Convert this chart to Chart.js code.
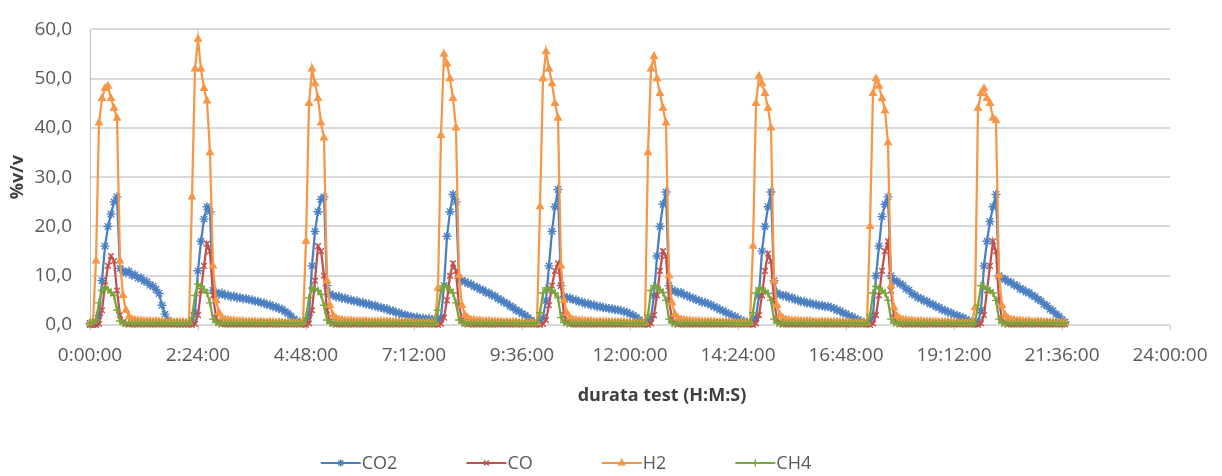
<!DOCTYPE html>
<html>
<head>
<meta charset="utf-8">
<title>Composizione gas - durata test</title>
<script src="https://cdn.jsdelivr.net/npm/chart.js@4.4.1/dist/chart.umd.min.js"></script>
<style>
  html, body { margin: 0; padding: 0; background: #fff; }
</style>
</head>
<body>
<canvas id="gasChart" width="1222" height="476"></canvas>
<script>
// letture ogni 4 minuti, a partire da 0:00:00
const SAMPLE_MIN = 4;

// %v/v per ogni lettura, un ciclo per riga
const co2 = [
  0.3, 0.3,
  0.4, 2, 9, 16, 20, 22.5, 25, 26, 11.5, 11, 10.6, 10.9, 10.1, 10.2, 9.5, 9.6, 8.9, 8.8, 8.1, 7.9, 7.2, 6.4, 4.0, 2.2, 1.0, 0.6, 0.5, 0.4, 0.4, 0.4, 0.4, 0.4,
  0.5, 2.5, 11, 17, 21.5, 24, 23, 7, 6.6, 6.2, 6.5, 6.0, 6.1, 5.7, 5.9, 5.5, 5.6, 5.3, 5.4, 5.1, 5.1, 4.8, 4.8, 4.5, 4.5, 4.1, 4.1, 3.7, 3.7, 3.3, 3.2, 2.7, 2.4, 1.8, 1.2, 0.8, 0.6, 0.5,
  0.6, 2, 12, 19, 23, 25.5, 26, 8, 6.3, 6.0, 5.7, 5.8, 5.4, 5.5, 5.1, 5.1, 4.8, 4.9, 4.5, 4.6, 4.2, 4.3, 3.9, 4.0, 3.6, 3.6, 3.3, 3.3, 2.9, 2.9, 2.5, 2.5, 2.1, 2.1, 1.8, 1.8, 1.5, 1.6, 1.3, 1.4, 1.2, 1.3, 1.1, 1.2,
  1.0, 1.5, 8, 18, 23, 26.5, 25, 9.5, 9.0, 8.8, 8.4, 8.3, 7.8, 7.7, 7.2, 7.1, 6.6, 6.5, 6.0, 5.9, 5.3, 5.1, 4.6, 4.4, 3.8, 3.6, 3.0, 2.8, 2.3, 2.0, 1.5, 1.0, 0.6, 0.5,
  0.5, 1.5, 5, 12, 19, 24, 27.5, 8, 5.8, 5.5, 5.5, 5.1, 5.1, 4.7, 4.7, 4.3, 4.4, 4.0, 4.1, 3.7, 3.8, 3.5, 3.5, 3.3, 3.3, 3.1, 3.1, 2.9, 2.7, 2.6, 2.2, 2.0, 1.6, 1.1, 0.7, 0.5,
  0.5, 1.5, 6, 14, 20, 24.5, 27, 8, 7, 6.9, 6.5, 6.6, 6.1, 6.0, 5.6, 5.5, 5.1, 5.0, 4.6, 4.6, 4.3, 4.1, 3.7, 3.5, 3.1, 2.9, 2.5, 2.3, 1.9, 1.7, 1.3, 1.0, 0.8, 0.6, 0.5,
  0.5, 1.5, 6, 15, 20, 24, 27, 9, 6.5, 6.2, 5.9, 6.0, 5.5, 5.6, 5.1, 5.1, 4.7, 4.8, 4.4, 4.5, 4.2, 4.2, 3.9, 4.0, 3.7, 3.8, 3.5, 3.4, 3.0, 2.9, 2.4, 2.3, 1.8, 1.7, 1.3, 1.1, 0.8, 0.6, 0.5,
  0.5, 2, 10, 16, 22, 24.5, 26, 10, 9, 8.9, 8.3, 8.1, 7.3, 7.1, 6.3, 6.1, 5.5, 5.4, 4.9, 4.8, 4.3, 4.2, 3.7, 3.6, 3.1, 3.0, 2.6, 2.5, 2.1, 2.0, 1.6, 1.5, 1.1, 0.9, 0.7, 0.5,
  0.5, 3, 12, 17, 21, 24, 26.5, 10, 9.5, 9.3, 8.8, 8.7, 8.1, 8.0, 7.3, 7.2, 6.7, 6.6, 6.0, 5.8, 5.2, 4.9, 4.2, 3.9, 3.2, 2.9, 2.2, 1.8, 1.1, 0.6
];

const co = [
  0, 0,
  0, 0.2, 3, 8, 12, 14, 13, 7, 2, 0.6, 0.2,
  0.1, 0.1, 0.1, 0.1, 0.1, 0.1, 0.1, 0.1, 0.1, 0.1, 0.1, 0.1, 0.1, 0.1, 0.1, 0.1, 0.1, 0.1, 0.1, 0.1, 0.1,
  0, 0.2, 2, 7, 12, 16.5, 15, 6, 1.5, 0.5, 0.2,
  0.1, 0.1, 0.1, 0.1, 0.1, 0.1, 0.1, 0.1, 0.1, 0.1, 0.1, 0.1, 0.1, 0.1, 0.1, 0.1, 0.1, 0.1, 0.1, 0.1, 0.1, 0.1, 0.1, 0.1, 0.1, 0.1, 0.1,
  0, 0.3, 3, 9, 16, 15, 10, 3, 0.8, 0.3, 0.1,
  0.1, 0.1, 0.1, 0.1, 0.1, 0.1, 0.1, 0.1, 0.1, 0.1, 0.1, 0.1, 0.1, 0.1, 0.1, 0.1, 0.1, 0.1, 0.1, 0.1, 0.1, 0.1, 0.1, 0.1, 0.1, 0.1, 0.1, 0.1, 0.1, 0.1, 0.1, 0.1, 0.1,
  0, 0.2, 1.5, 5, 10, 12.5, 11, 4, 1, 0.3,
  0.1, 0.1, 0.1, 0.1, 0.1, 0.1, 0.1, 0.1, 0.1, 0.1, 0.1, 0.1, 0.1, 0.1, 0.1, 0.1, 0.1, 0.1, 0.1, 0.1, 0.1, 0.1, 0.1, 0.1,
  0, 0.2, 1, 4, 8, 11, 12.5, 8, 2, 0.5, 0.2,
  0.1, 0.1, 0.1, 0.1, 0.1, 0.1, 0.1, 0.1, 0.1, 0.1, 0.1, 0.1, 0.1, 0.1, 0.1, 0.1, 0.1, 0.1, 0.1, 0.1, 0.1, 0.1, 0.1, 0.1, 0.1,
  0, 0.3, 2, 6, 11, 15, 14, 5, 1.2, 0.4,
  0.1, 0.1, 0.1, 0.1, 0.1, 0.1, 0.1, 0.1, 0.1, 0.1, 0.1, 0.1, 0.1, 0.1, 0.1, 0.1, 0.1, 0.1, 0.1, 0.1, 0.1, 0.1, 0.1, 0.1, 0.1,
  0, 0.3, 2, 6, 11, 14.5, 13, 5, 1.2, 0.4,
  0.1, 0.1, 0.1, 0.1, 0.1, 0.1, 0.1, 0.1, 0.1, 0.1, 0.1, 0.1, 0.1, 0.1, 0.1, 0.1, 0.1, 0.1, 0.1, 0.1, 0.1, 0.1, 0.1, 0.1, 0.1, 0.1, 0.1, 0.1, 0.1,
  0, 0.3, 2, 6, 11, 15, 17, 7, 1.5, 0.5,
  0.1, 0.1, 0.1, 0.1, 0.1, 0.1, 0.1, 0.1, 0.1, 0.1, 0.1, 0.1, 0.1, 0.1, 0.1, 0.1, 0.1, 0.1, 0.1, 0.1, 0.1, 0.1, 0.1, 0.1, 0.1, 0.1,
  0, 0.3, 2, 7, 12, 17, 15, 5, 1.2, 0.4,
  0.1, 0.1, 0.1, 0.1, 0.1, 0.1, 0.1, 0.1, 0.1, 0.1, 0.1, 0.1, 0.1, 0.1, 0.1, 0.1, 0.1, 0.1, 0.1, 0.1
];

const h2 = [
  0.5, 0.8,
  13, 41, 46, 48, 48.5, 46, 44, 42, 13, 6, 3, 1.7, 1.2,
  1.0, 0.9, 0.9, 0.8, 0.8, 0.8, 0.7, 0.8, 0.7, 0.7, 0.7, 0.6, 0.7, 0.6, 0.6, 0.6, 0.6, 0.5, 0.6,
  26, 52, 58, 52, 48, 45.5, 35, 12, 5, 2.5, 1.5, 1.1, 1.0,
  0.9, 0.9, 0.8, 0.8, 0.8, 0.7, 0.7, 0.7, 0.7, 0.6, 0.7, 0.6, 0.6, 0.6, 0.6, 0.5, 0.6, 0.5, 0.5, 0.5, 0.5, 0.5, 0.5, 0.5, 0.6,
  17, 45, 52, 49, 46, 41, 38, 9, 4, 2, 1.4, 1.1, 1.0,
  0.9, 0.9, 0.9, 0.8, 0.8, 0.8, 0.8, 0.8, 0.7, 0.7, 0.7, 0.7, 0.7, 0.7, 0.7, 0.7, 0.6, 0.6, 0.6, 0.6, 0.6, 0.6, 0.6, 0.6, 0.5, 0.5, 0.5, 0.5, 0.5, 0.5, 0.5,
  7.5, 38.5, 55, 53, 50, 46, 40, 10, 4, 2, 1.4, 1.1, 1.0,
  0.9, 0.9, 0.8, 0.8, 0.8, 0.7, 0.7, 0.7, 0.7, 0.6, 0.6, 0.6, 0.6, 0.6, 0.5, 0.5, 0.5, 0.5, 0.5, 0.5, 0.5,
  24, 50, 55.5, 52, 49, 45, 42, 12, 5, 2.4, 1.5, 1.1, 1.0,
  0.9, 0.9, 0.8, 0.8, 0.8, 0.7, 0.7, 0.7, 0.7, 0.7, 0.6, 0.6, 0.6, 0.6, 0.6, 0.6, 0.5, 0.5, 0.5, 0.5, 0.5, 0.5, 0.5,
  35, 52, 54.5, 50, 47, 44, 41, 10, 4.5, 2.2, 1.4, 1.1, 1.0,
  0.9, 0.9, 0.8, 0.8, 0.8, 0.7, 0.7, 0.7, 0.7, 0.7, 0.6, 0.6, 0.6, 0.6, 0.6, 0.6, 0.5, 0.5, 0.5, 0.5, 0.5, 0.5,
  16, 45, 50.5, 49, 47, 44, 40, 9, 4, 2, 1.4, 1.1, 1.0,
  0.9, 0.9, 0.9, 0.8, 0.8, 0.8, 0.8, 0.7, 0.7, 0.7, 0.7, 0.7, 0.7, 0.6, 0.6, 0.6, 0.6, 0.6, 0.6, 0.6, 0.5, 0.5, 0.5, 0.5, 0.5, 0.5,
  20, 47, 50, 48.5, 46, 43.5, 37, 8, 3.5, 1.8, 1.3, 1.1, 1.0,
  0.9, 0.9, 0.8, 0.8, 0.8, 0.7, 0.7, 0.7, 0.7, 0.7, 0.6, 0.6, 0.6, 0.6, 0.6, 0.6, 0.5, 0.5, 0.5, 0.5, 0.5, 0.5, 3.5,
  44, 47, 48, 46, 45, 42, 41.5, 10, 4, 2, 1.4, 1.1, 1.0,
  0.9, 0.9, 0.8, 0.8, 0.8, 0.7, 0.7, 0.7, 0.7, 0.6, 0.6, 0.6, 0.6, 0.5, 0.5, 0.5, 0.5
];

const ch4 = [
  0.3, 0.5,
  1, 4.5, 7, 7.5, 7.2, 6.6, 6, 3, 0.8, 0.4,
  0.3, 0.4, 0.3, 0.3, 0.4, 0.3, 0.3, 0.4, 0.3, 0.3, 0.3, 0.4, 0.3, 0.3, 0.4, 0.3, 0.3, 0.4, 0.3, 0.3, 0.3, 0.3,
  1.5, 6, 8.3, 7.8, 7.2, 6.5, 4.5, 1.2, 0.5,
  0.3, 0.4, 0.3, 0.3, 0.4, 0.3, 0.3, 0.4, 0.3, 0.3, 0.3, 0.4, 0.3, 0.3, 0.4, 0.3, 0.3, 0.4, 0.3, 0.3, 0.3, 0.4, 0.3, 0.3, 0.4, 0.3, 0.3, 0.4, 0.3,
  1.5, 5.5, 7.5, 7.3, 7, 6.2, 4, 1, 0.4,
  0.3, 0.4, 0.3, 0.3, 0.4, 0.3, 0.3, 0.4, 0.3, 0.3, 0.3, 0.4, 0.3, 0.3, 0.4, 0.3, 0.3, 0.4, 0.3, 0.3, 0.3, 0.4, 0.3, 0.3, 0.4, 0.3, 0.3, 0.4, 0.3, 0.3, 0.3, 0.4, 0.3, 0.3, 0.4,
  3, 7, 8, 7.6, 7.2, 6.5, 4.5, 1, 0.4,
  0.3, 0.4, 0.3, 0.3, 0.4, 0.3, 0.3, 0.4, 0.3, 0.3, 0.3, 0.4, 0.3, 0.3, 0.4, 0.3, 0.3, 0.4, 0.3, 0.3, 0.3, 0.4, 0.3, 0.3, 0.4,
  2.5, 6.5, 7.5, 7.2, 7, 6.5, 5.5, 1.5, 0.5,
  0.3, 0.4, 0.3, 0.3, 0.4, 0.3, 0.3, 0.4, 0.3, 0.3, 0.3, 0.4, 0.3, 0.3, 0.4, 0.3, 0.3, 0.4, 0.3, 0.3, 0.3, 0.4, 0.3, 0.3, 0.4, 0.3, 0.3,
  2, 7, 8, 7.6, 7.2, 6.6, 5, 1.2, 0.4,
  0.3, 0.4, 0.3, 0.3, 0.4, 0.3, 0.3, 0.4, 0.3, 0.3, 0.3, 0.4, 0.3, 0.3, 0.4, 0.3, 0.3, 0.4, 0.3, 0.3, 0.3, 0.4, 0.3, 0.3, 0.4, 0.3,
  2.5, 6.5, 7.5, 7.2, 6.9, 6.4, 5, 1.2, 0.4,
  0.3, 0.4, 0.3, 0.3, 0.4, 0.3, 0.3, 0.4, 0.3, 0.3, 0.3, 0.4, 0.3, 0.3, 0.4, 0.3, 0.3, 0.4, 0.3, 0.3, 0.3, 0.4, 0.3, 0.3, 0.4, 0.3, 0.3, 0.4, 0.3, 0.3,
  2, 6.5, 7.8, 7.4, 7, 6.5, 5, 1.2, 0.4,
  0.3, 0.4, 0.3, 0.3, 0.4, 0.3, 0.3, 0.4, 0.3, 0.3, 0.3, 0.4, 0.3, 0.3, 0.4, 0.3, 0.3, 0.4, 0.3, 0.3, 0.3, 0.4, 0.3, 0.3, 0.4, 0.3, 0.3,
  4, 8, 7.8, 7.4, 7, 6.5, 5, 1.2, 0.4,
  0.3, 0.4, 0.3, 0.3, 0.4, 0.3, 0.3, 0.4, 0.3, 0.3, 0.3, 0.4, 0.3, 0.3, 0.4, 0.3, 0.3, 0.4, 0.3, 0.3, 0.3
];

const lengths = [co2, co, h2, ch4].map(a => a.length);
if (lengths.some(n => n !== lengths[0])) {
  throw new Error('serie di lunghezza diversa: ' + lengths.join('/'));
}

// asse x in minuti: 0:00:00 .. 24:00:00, una tacca ogni 2:24:00
const X_MAX = 1440;
const X_STEP = 144;

const blue = '#4a7fc1';
const red = '#c0504d';
const orange = '#f79646';
const green = '#78a53c';
const axisText = '#595959';
const titleText = '#404040';

Chart.defaults.font.family = '"Open Sans", sans-serif';

function hms(min) {
  const h = Math.floor(min / 60);
  const m = Math.round(min % 60);
  return h + ':' + String(m).padStart(2, '0') + ':00';
}

function series(label, values, color, pointStyle, radius, order) {
  return {
    label: label,
    data: values.map((v, i) => ({ x: i * SAMPLE_MIN, y: v })),
    borderColor: color,
    backgroundColor: color,
    borderWidth: 2.25,
    pointStyle: pointStyle,
    pointRadius: radius,
    pointBorderWidth: 1.4,
    pointBackgroundColor: color,
    pointBorderColor: color,
    tension: 0,
    clip: false,
    order: order
  };
}

// titolo asse x e legenda sotto al grafico
const bottomLabels = {
  id: 'bottomLabels',
  afterDraw(chart) {
    const { ctx, chartArea } = chart;
    const midX = (chartArea.left + chartArea.right) / 2;
    ctx.save();
    ctx.textBaseline = 'middle';

    ctx.font = 'bold 18px "Open Sans", sans-serif';
    ctx.fillStyle = titleText;
    ctx.textAlign = 'center';
    ctx.fillText('durata test (H:M:S)', midX + 32, chartArea.bottom + 71);

    ctx.font = '18px "Open Sans", sans-serif';
    ctx.textAlign = 'left';
    const lineLen = 40;
    const gap = 69;
    const items = chart.data.datasets.map(ds => ({ ds, w: lineLen + 1 + ctx.measureText(ds.label).width }));
    const total = items.reduce((s, it) => s + it.w, 0) + gap * (items.length - 1);
    let x = midX - 64 - total / 2;
    const y = chartArea.bottom + 138;
    items.forEach(({ ds, w }) => {
      ctx.strokeStyle = ds.borderColor;
      ctx.lineWidth = 2;
      ctx.beginPath();
      ctx.moveTo(x, y);
      ctx.lineTo(x + lineLen, y);
      ctx.stroke();
      ctx.fillStyle = ds.pointBackgroundColor;
      ctx.strokeStyle = ds.pointBorderColor;
      ctx.lineWidth = ds.pointBorderWidth;
      Chart.helpers.drawPoint(ctx, {
        pointStyle: ds.pointStyle,
        radius: 3.5,
        borderWidth: ds.pointBorderWidth,
        rotation: 0
      }, x + lineLen / 2, y);
      ctx.fillStyle = axisText;
      ctx.fillText(ds.label, x + lineLen + 1, y + 1);
      x += w + gap;
    });
    ctx.restore();
  }
};

new Chart(document.getElementById('gasChart'), {
  type: 'line',
  data: {
    datasets: [
      series('CO2', co2, blue, 'star', 4.5, 4),
      series('CO', co, red, 'crossRot', 4, 3),
      series('H2', h2, orange, 'triangle', 3.8, 2),
      series('CH4', ch4, green, 'cross', 4, 1)
    ]
  },
  options: {
    responsive: false,
    animation: false,
    layout: { padding: { top: 21, right: 52, bottom: 0, left: 0 } },
    plugins: {
      legend: { display: false },
      tooltip: { enabled: false }
    },
    scales: {
      x: {
        type: 'linear',
        min: 0,
        max: X_MAX,
        ticks: {
          stepSize: X_STEP,
          autoSkip: false,
          maxRotation: 0,
          padding: 14,
          color: axisText,
          font: { size: 19 },
          callback: v => hms(v)
        },
        grid: { drawOnChartArea: false, tickLength: 5, color: '#bfbfbf' },
        border: { color: '#d9d9d9' },
        afterFit: scale => { scale.height = 151; }
      },
      y: {
        min: 0,
        max: 60,
        ticks: {
          stepSize: 10,
          padding: 18,
          color: axisText,
          font: { size: 19 },
          callback: v => v.toFixed(1).replace('.', ',')
        },
        grid: { color: '#d9d9d9', lineWidth: 2, drawTicks: false },
        border: { display: true, color: '#bfbfbf', width: 1 },
        title: {
          display: true,
          text: '%v/v',
          color: titleText,
          font: { size: 18, weight: 'bold' },
          padding: { top: 7, bottom: 0 }
        },
        afterFit: scale => { scale.width = 90; }
      }
    }
  },
  plugins: [bottomLabels]
});
</script>
</body>
</html>
